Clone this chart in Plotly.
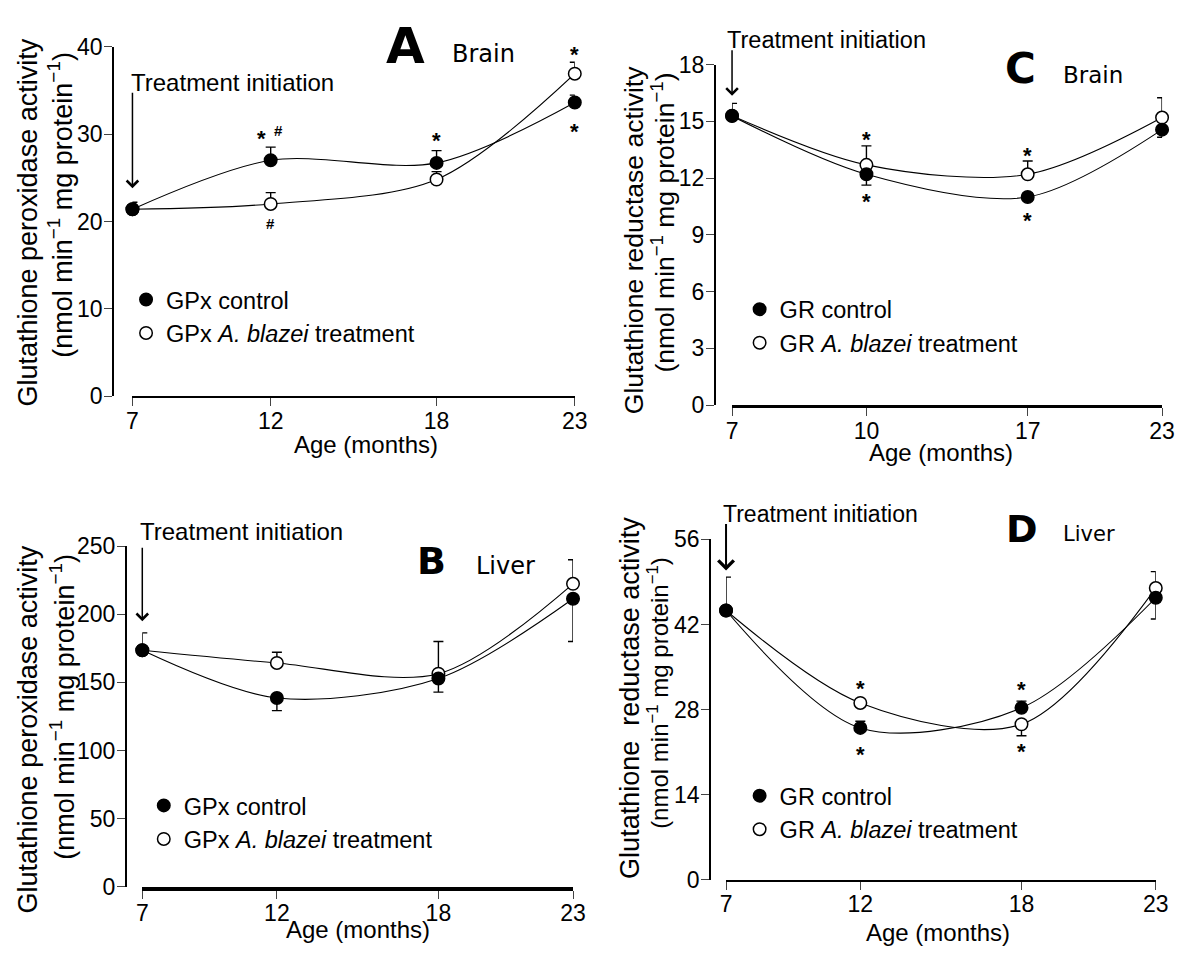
import plotly.graph_objects as go

W, H = 1192, 963

# ---------------- data ----------------
slot_pos = [7, 12, 18, 23]            # positions of the four sampling slots on the age axis
ages_A = [7, 12, 18, 23]              # tick labels (months)
ages_B = [7, 12, 18, 23]
ages_C = [7, 10, 17, 23]
ages_D = [7, 12, 18, 23]

# Panel A: glutathione peroxidase, brain
gpx_brain_ctrl = [21.4, 27.0, 26.7, 33.6]
gpx_brain_ctrl_up = [0.8, 1.5, 1.4, 0.85]
gpx_brain_ctrl_dn = [0, 0, 0, 0]
gpx_brain_trt = [21.4, 22.0, 24.8, 36.9]
gpx_brain_trt_up = [0, 1.3, 0.9, 1.3]
gpx_brain_trt_dn = [0, 0, 0, 0]

# Panel B: glutathione peroxidase, liver
gpx_liver_ctrl = [173.6, 138.6, 152.9, 211.4]
gpx_liver_ctrl_up = [12.8, 0, 0, 0]
gpx_liver_ctrl_dn = [0, 9.3, 10.0, 31.4]
gpx_liver_trt = [173.6, 164.3, 156.4, 222.4]
gpx_liver_trt_up = [0, 7.8, 23.6, 17.6]
gpx_liver_trt_dn = [0, 0, 0, 0]

# Panel C: glutathione reductase, brain
gr_brain_ctrl = [15.28, 12.2, 11.0, 14.56]
gr_brain_ctrl_up = [0.67, 0, 0.2, 0]
gr_brain_ctrl_dn = [0, 0.57, 0, 0.4]
gr_brain_trt = [15.3, 12.7, 12.2, 15.2]
gr_brain_trt_up = [0, 1.0, 0.7, 1.05]
gr_brain_trt_dn = [0, 0, 0, 0]

# Panel D: glutathione reductase, liver
gr_liver_ctrl = [44.3, 25.0, 28.3, 46.4]
gr_liver_ctrl_up = [5.5, 1.1, 1.1, 0]
gr_liver_ctrl_dn = [0, 0, 0, 3.5]
gr_liver_trt = [44.3, 29.1, 25.6, 48.0]
gr_liver_trt_up = [0, 0.4, 0, 2.7]
gr_liver_trt_dn = [0, 0, 1.9, 0]

# significance marks: (series, slot index, symbol, vertical offset px, horizontal offset px)
sig_A = [("ctrl", 1, "*", 27, -9), ("ctrl", 1, "#", 30, 7.5), ("trt", 1, "#", -20, 0),
         ("ctrl", 2, "*", 27, 0), ("trt", 3, "*", 24, 0), ("ctrl", 3, "*", -24, 0)]
sig_B = []
sig_C = [("ctrl", 1, "*", -22, 0), ("trt", 1, "*", 30, 0), ("trt", 2, "*", 24, 0),
         ("ctrl", 2, "*", -19, 0)]
sig_D = [("trt", 1, "*", 19, 0), ("ctrl", 1, "*", -22, 0), ("ctrl", 2, "*", 23, 0),
         ("trt", 2, "*", -22, 0)]

MINUS = "\u2212"
UNIT = f"(nmol min<sup>{MINUS}1</sup> mg protein<sup>{MINUS}1</sup>)"

panels = [
    dict(sfx="", legend="legend", letter="A", tissue="Brain", enzyme="GPx",
         ytitle="Glutathione peroxidase activity",
         ctrl=gpx_brain_ctrl, ctrl_up=gpx_brain_ctrl_up, ctrl_dn=gpx_brain_ctrl_dn,
         trt=gpx_brain_trt, trt_up=gpx_brain_trt_up, trt_dn=gpx_brain_trt_dn,
         ticks=ages_A, sig=sig_A, ymax=40, dtick=10,
         xdom=(128.5, 578), ydom=(34.5, 394), ypos=109, xlw=2.2, ylw=2,
         t1=(22.7, 215, 27), t2=(55, 197, 27), age=(366, 443),
         let=(405.6, 33.5, 50), tis=(451, 42, 24),
         ti=(125, 71, 24), arrow=(180, 83, 1.5),
         leg=(162, 298)),
    dict(sfx="2", legend="legend2", letter="B", tissue="Liver", enzyme="GPx",
         ytitle="Glutathione peroxidase activity",
         ctrl=gpx_liver_ctrl, ctrl_up=gpx_liver_ctrl_up, ctrl_dn=gpx_liver_ctrl_dn,
         trt=gpx_liver_trt, trt_up=gpx_liver_trt_up, trt_dn=gpx_liver_trt_dn,
         ticks=ages_B, sig=sig_B, ymax=250, dtick=50,
         xdom=(138.5, 576.2), ydom=(548, 898), ypos=122, xlw=3.5, ylw=2.2,
         t1=(22.7, 736, 27), t2=(56.9, 713, 27), age=(358, 942),
         let=(432, 563.5, 38), tis=(475.7, 568, 24),
         ti=(134.6, 533, 24), arrow=(625, 550, 1.5),
         leg=(180, 818)),
    dict(sfx="3", legend="legend3", letter="C", tissue="Brain", enzyme="GR",
         ytitle="Glutathione reductase activity",
         ctrl=gr_brain_ctrl, ctrl_up=gr_brain_ctrl_up, ctrl_dn=gr_brain_ctrl_dn,
         trt=gr_brain_trt, trt_up=gr_brain_trt_up, trt_dn=gr_brain_trt_dn,
         ticks=ages_C, sig=sig_C, ymax=18, dtick=3,
         xdom=(737.8, 1174.8), ydom=(53, 403), ypos=720.5, xlw=2.8, ylw=2,
         t1=(637.7, 234, 26.5), t2=(668, 215, 26.5), age=(950, 452),
         let=(1031, 57, 42), tis=(1071.7, 63.5, 23),
         ti=(730.6, 27.5, 23.5), arrow=(85, 38, 1.5),
         leg=(785.5, 308)),
    dict(sfx="4", legend="legend4", letter="D", tissue="Liver", enzyme="GR",
         ytitle="Glutathione\u00a0 reductase activity",
         ctrl=gr_liver_ctrl, ctrl_up=gr_liver_ctrl_up, ctrl_dn=gr_liver_ctrl_dn,
         trt=gr_liver_trt, trt_up=gr_liver_trt_up, trt_dn=gr_liver_trt_dn,
         ticks=ages_D, sig=sig_D, ymax=56, dtick=14,
         xdom=(731.7, 1168.4), ydom=(541, 891), ypos=715.4, xlw=1.6, ylw=1.6,
         t1=(634, 704, 27), t2=(662.3, 699, 24), age=(946.6, 945),
         let=(1032, 530, 38), tis=(1071.7, 535, 21),
         ti=(726.8, 514.7, 23), arrow=(573, 525, 2),
         leg=(785.5, 808)),
]


def fx(px):
    return px / W


def fy(py):
    return 1 - py / H


ARIAL = "Liberation Sans, Arial, Helvetica, sans-serif"
VERD = "DejaVu Sans, Verdana, sans-serif"

fig = go.Figure()
annotations = []
layout = {}

for p in panels:
    xa, ya = "x" + p["sfx"], "y" + p["sfx"]
    # connecting smooth curves
    for key in ("ctrl", "trt"):
        fig.add_trace(go.Scatter(
            x=slot_pos, y=p[key], mode="lines", xaxis=xa, yaxis=ya,
            line=dict(color="black", width=1.1, shape="spline", smoothing=0.9),
            showlegend=False, hoverinfo="skip"))
    # treatment points (open circles)
    fig.add_trace(go.Scatter(
        x=slot_pos, y=p["trt"], mode="markers", xaxis=xa, yaxis=ya,
        name=f"{p['enzyme']} <i>A. blazei</i> treatment",
        legend=p["legend"], legendrank=2, cliponaxis=False,
        marker=dict(symbol="circle", size=12.5, color="white",
                    line=dict(color="black", width=1.5)),
        error_y=dict(type="data", symmetric=False, array=p["trt_up"],
                     arrayminus=p["trt_dn"], color="black", thickness=1.4, width=5)))
    # control points (filled circles)
    fig.add_trace(go.Scatter(
        x=slot_pos, y=p["ctrl"], mode="markers", xaxis=xa, yaxis=ya,
        name=f"{p['enzyme']} control",
        legend=p["legend"], legendrank=1, cliponaxis=False,
        marker=dict(symbol="circle", size=12.5, color="black",
                    line=dict(color="black", width=1.5)),
        error_y=dict(type="data", symmetric=False, array=p["ctrl_up"],
                     arrayminus=p["ctrl_dn"], color="black", thickness=1.4, width=5)))

    layout["xaxis" + p["sfx"]] = dict(
        domain=[fx(p["xdom"][0]), fx(p["xdom"][1])], range=[slot_pos[0], slot_pos[-1]],
        anchor=ya, tickmode="array", tickvals=slot_pos, ticktext=[str(t) for t in p["ticks"]],
        ticks="outside", ticklen=8, tickwidth=1.2, tickcolor="#444",
        ticklabelstandoff=-5,
        showline=True, linecolor="black", linewidth=p["xlw"],
        showgrid=False, zeroline=False, fixedrange=True,
        tickfont=dict(family=ARIAL, size=23, color="black"))
    layout["yaxis" + p["sfx"]] = dict(
        domain=[fy(p["ydom"][1]), fy(p["ydom"][0])], range=[0, p["ymax"]],
        anchor="free", position=fx(p["ypos"]), dtick=p["dtick"], tick0=0,
        ticks="outside", ticklen=8, tickwidth=1.2, tickcolor="#444",
        ticklabelstandoff=-3,
        showline=True, linecolor="black", linewidth=p["ylw"],
        showgrid=False, zeroline=False, fixedrange=True,
        tickfont=dict(family=ARIAL, size=23, color="black"))
    layout[p["legend"]] = dict(
        x=fx(p["leg"][0] - 40), y=fy(p["leg"][1] - 26), xanchor="left", yanchor="top",
        bgcolor="rgba(0,0,0,0)", font=dict(family=ARIAL, size=23.5, color="black"),
        traceorder="normal", itemwidth=30)

    # y-axis title (two lines)
    annotations.append(dict(text=p["ytitle"], xref="paper", yref="paper",
                            x=fx(p["t1"][0]), y=fy(p["t1"][1]), textangle=-90,
                            xanchor="center", yanchor="middle", showarrow=False,
                            font=dict(family=ARIAL, size=p["t1"][2], color="black")))
    annotations.append(dict(text=UNIT, xref="paper", yref="paper",
                            x=fx(p["t2"][0]), y=fy(p["t2"][1]), textangle=-90,
                            xanchor="center", yanchor="middle", showarrow=False,
                            font=dict(family=ARIAL, size=p["t2"][2], color="black")))
    # x-axis title
    annotations.append(dict(text="Age (months)", xref="paper", yref="paper",
                            x=fx(p["age"][0]), y=fy(p["age"][1]),
                            xanchor="center", yanchor="middle", showarrow=False,
                            font=dict(family=ARIAL, size=24, color="black")))
    # panel letter and tissue
    annotations.append(dict(text=p["letter"], xref="paper", yref="paper",
                            x=fx(p["let"][0]), y=fy(p["let"][1]),
                            xanchor="center", yanchor="middle", showarrow=False,
                            font=dict(family=VERD, size=p["let"][2], color="black",
                                      weight="bold")))
    annotations.append(dict(text=p["tissue"], xref="paper", yref="paper",
                            x=fx(p["tis"][0]), y=fy(p["tis"][1]),
                            xanchor="left", yanchor="middle", showarrow=False,
                            font=dict(family=VERD, size=p["tis"][2], color="black")))
    # treatment initiation text + arrow
    annotations.append(dict(text="Treatment initiation", xref="paper", yref="paper",
                            x=fx(p["ti"][0]), y=fy(p["ti"][1]),
                            xanchor="left", yanchor="middle", showarrow=False,
                            font=dict(family=ARIAL, size=p["ti"][2], color="black")))
    head, tail, aw = p["arrow"]
    annotations.append(dict(text="", xref=xa, yref="paper", x=slot_pos[0], y=fy(head),
                            ax=0, ay=tail - head, showarrow=True, arrowhead=4,
                            arrowsize=1.5, arrowwidth=aw, arrowcolor="black", standoff=0))
    # significance marks
    for series, idx, sym, dy, dx in p["sig"]:
        vals = p[series]
        if sym == "*":
            fnt = dict(family=ARIAL, size=22, color="black", weight="bold")
            corr = -4.8
        else:
            fnt = dict(family=ARIAL, size=15, color="black", weight="bold")
            corr = 0
        annotations.append(dict(text=sym, xref=xa, yref=ya, x=slot_pos[idx], y=vals[idx],
                                yshift=dy + corr, xshift=dx, showarrow=False,
                                xanchor="center", yanchor="middle", font=fnt))

fig.update_layout(
    width=W, height=H, margin=dict(l=0, r=0, t=0, b=0),
    paper_bgcolor="white", plot_bgcolor="white",
    font=dict(family=ARIAL, color="black"),
    hovermode=False, annotations=annotations, **layout)

fig.write_html("out.html",
               config={"displayModeBar": False, "staticPlot": False},
               post_script="document.body.style.margin='0';"
                           "document.body.style.overflow='hidden';")
